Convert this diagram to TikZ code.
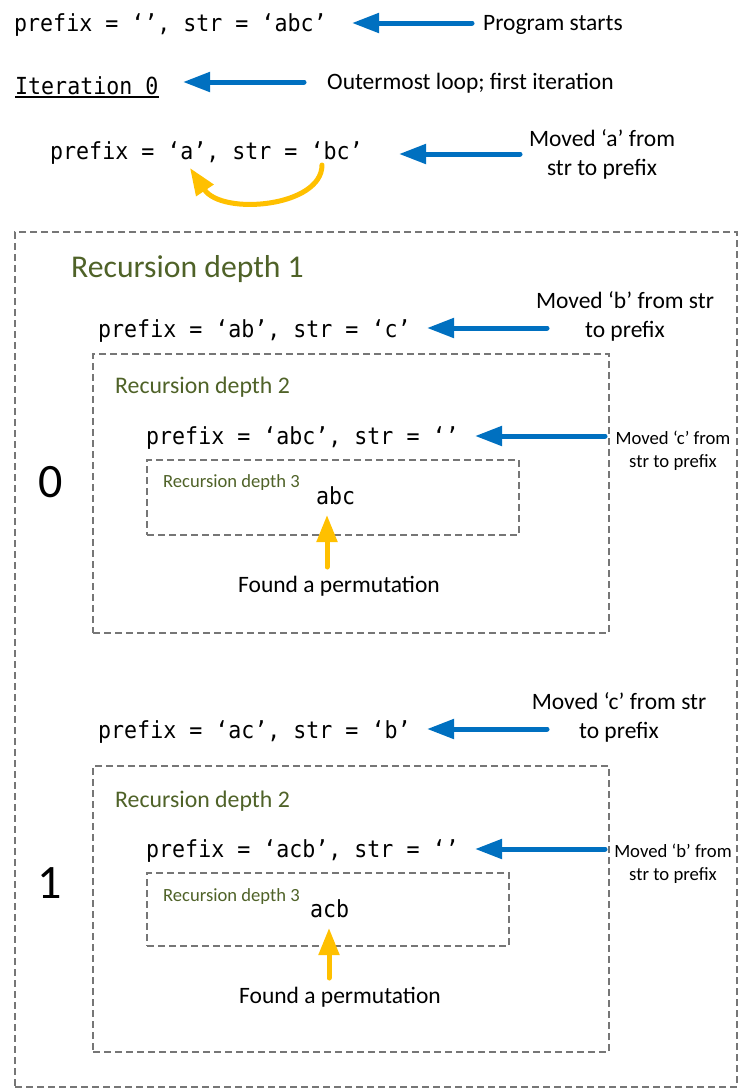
\documentclass[tikz,border=0pt]{standalone}
\usepackage{fontspec}
\setmainfont{Carlito}
\newfontfamily\codefont[FakeStretch=0.92]{DejaVu Sans Mono}
\usetikzlibrary{arrows.meta}
\definecolor{arrblue}{HTML}{0070C0}
\definecolor{arrorange}{HTML}{FFC000}
\definecolor{depthgreen}{HTML}{4F6228}
\definecolor{boxgray}{HTML}{767676}
\tikzset{
  codetxt/.style={font=\codefont\fontsize{23.5}{28}\selectfont, anchor=base west, inner sep=0pt},
  lbl/.style={font=\fontsize{23.5}{28.5}\selectfont, align=center, anchor=base, inner sep=0pt},
  lblw/.style={font=\fontsize{23.5}{28.5}\selectfont, anchor=base west, inner sep=0pt},
  smalllbl/.style={font=\fontsize{18.7}{22.5}\selectfont, align=center, anchor=base, inner sep=0pt},
  depthone/.style={font=\fontsize{31.7}{36}\selectfont, text=depthgreen, anchor=base west, inner sep=0pt},
  depthtwo/.style={font=\fontsize{23.8}{28}\selectfont, text=depthgreen, anchor=base west, inner sep=0pt},
  depththree/.style={font=\fontsize{18.6}{22}\selectfont, text=depthgreen, anchor=base west, inner sep=0pt},
  bigdigit/.style={font=\fontsize{48}{52}\selectfont, anchor=base, inner sep=0pt},
  dbox/.style={draw=boxgray, line width=1.4pt, dash pattern=on 7pt off 4pt, inner sep=0pt},
  barrow/.style={draw=arrblue, line width=5pt, line cap=round, -{Triangle[length=27pt,width=19pt]}},
  oarrow/.style={draw=arrorange, line width=5pt, line cap=round, -{Triangle[length=27pt,width=20pt]}},
}
\begin{document}
\begin{tikzpicture}[x=1pt,y=-1pt]
\useasboundingbox (0,0) rectangle (741,1090);

% boxes
\node[dbox, minimum width=722pt, minimum height=855pt] (outer) at (376,659.5) {};
\node[dbox, minimum width=516pt, minimum height=279pt] (dtwoa) at (351,493.5) {};
\node[dbox, minimum width=372pt, minimum height=75pt] (dthreea) at (333,497.5) {};
\node[dbox, minimum width=516pt, minimum height=286pt] (dtwob) at (351,909) {};
\node[dbox, minimum width=362pt, minimum height=73pt] (dthreeb) at (328,909.5) {};

% top part
\node[codetxt] (c1) at (14,31) {prefix = ‘’, str = ‘abc’};
\node[lblw] (l1) at (483,30) {Program starts};
\coordinate (a1s) at (472,23);
\coordinate (a1e) at (352,23);
\draw[barrow] (a1s) -- (a1e);

\node[codetxt] (it) at (15,94) {Iteration 0};
\draw[line width=1.2pt] ([yshift=-3pt]it.base west) -- ([yshift=-3pt]it.base east);
\node[lblw] (l2) at (327,89) {Outermost loop; first iteration};
\coordinate (a2s) at (304,82);
\coordinate (a2e) at (183,82);
\draw[barrow] (a2s) -- (a2e);

\node[codetxt] (c2) at (50,159) {prefix = ‘a’, str = ‘bc’};
\node[lbl] (l3) at (602,175) {Moved ‘a’ from\\str to prefix};
\coordinate (a3s) at (520,154);
\coordinate (a3e) at (399,154);
\draw[barrow] (a3s) -- (a3e);
\coordinate (mvs) at (322,165);
\coordinate (mve) at (190,168);
\draw[oarrow] (mvs) .. controls (322,207) and (222,216) .. (mve);

% recursion depth 1
\node[depthone] (rd1) at (71,277) {Recursion depth 1};
\node[codetxt] (c3) at (98,337) {prefix = ‘ab’, str = ‘c’};
\node[lbl] (l4) at (625,337) {Moved ‘b’ from str\\to prefix};
\coordinate (a4s) at (547,328);
\coordinate (a4e) at (427,328);
\draw[barrow] (a4s) -- (a4e);

\node[bigdigit] (n0) at (51,497) {0};

% depth 2 (first)
\node[depthtwo] (rd2a) at (115,393) {Recursion depth 2};
\node[codetxt] (c4) at (146,444) {prefix = ‘abc’, str = ‘’};
\node[smalllbl] (l5) at (673,467) {Moved ‘c’ from\\str to prefix};
\coordinate (a5s) at (605,436);
\coordinate (a5e) at (475,436);
\draw[barrow] (a5s) -- (a5e);

\node[depththree] (rd3a) at (163,487) {Recursion depth 3};
\node[codetxt] (pabc) at (316,504) {abc};
\node[lbl] (f1) at (339,592) {Found a permutation};
\coordinate (o1s) at (327,567);
\coordinate (o1e) at (327,515);
\draw[oarrow] (o1s) -- (o1e);

% second iteration
\node[lbl] (l6) at (619,738) {Moved ‘c’ from str\\to prefix};
\node[codetxt] (c5) at (98,738) {prefix = ‘ac’, str = ‘b’};
\coordinate (a6s) at (547,729);
\coordinate (a6e) at (427,729);
\draw[barrow] (a6s) -- (a6e);

\node[bigdigit] (n1) at (50,898) {1};

\node[depthtwo] (rd2b) at (115,807) {Recursion depth 2};
\node[codetxt] (c6) at (146,857) {prefix = ‘acb’, str = ‘’};
\node[smalllbl] (l7) at (673,880) {Moved ‘b’ from\\str to prefix};
\coordinate (a7s) at (605,849);
\coordinate (a7e) at (475,849);
\draw[barrow] (a7s) -- (a7e);

\node[depththree] (rd3b) at (163,901) {Recursion depth 3};
\node[codetxt] (pacb) at (310,917) {acb};
\node[lbl] (f2) at (340,1003) {Found a permutation};
\coordinate (o2s) at (329,978);
\coordinate (o2e) at (329,928);
\draw[oarrow] (o2s) -- (o2e);
\end{tikzpicture}
\end{document}
